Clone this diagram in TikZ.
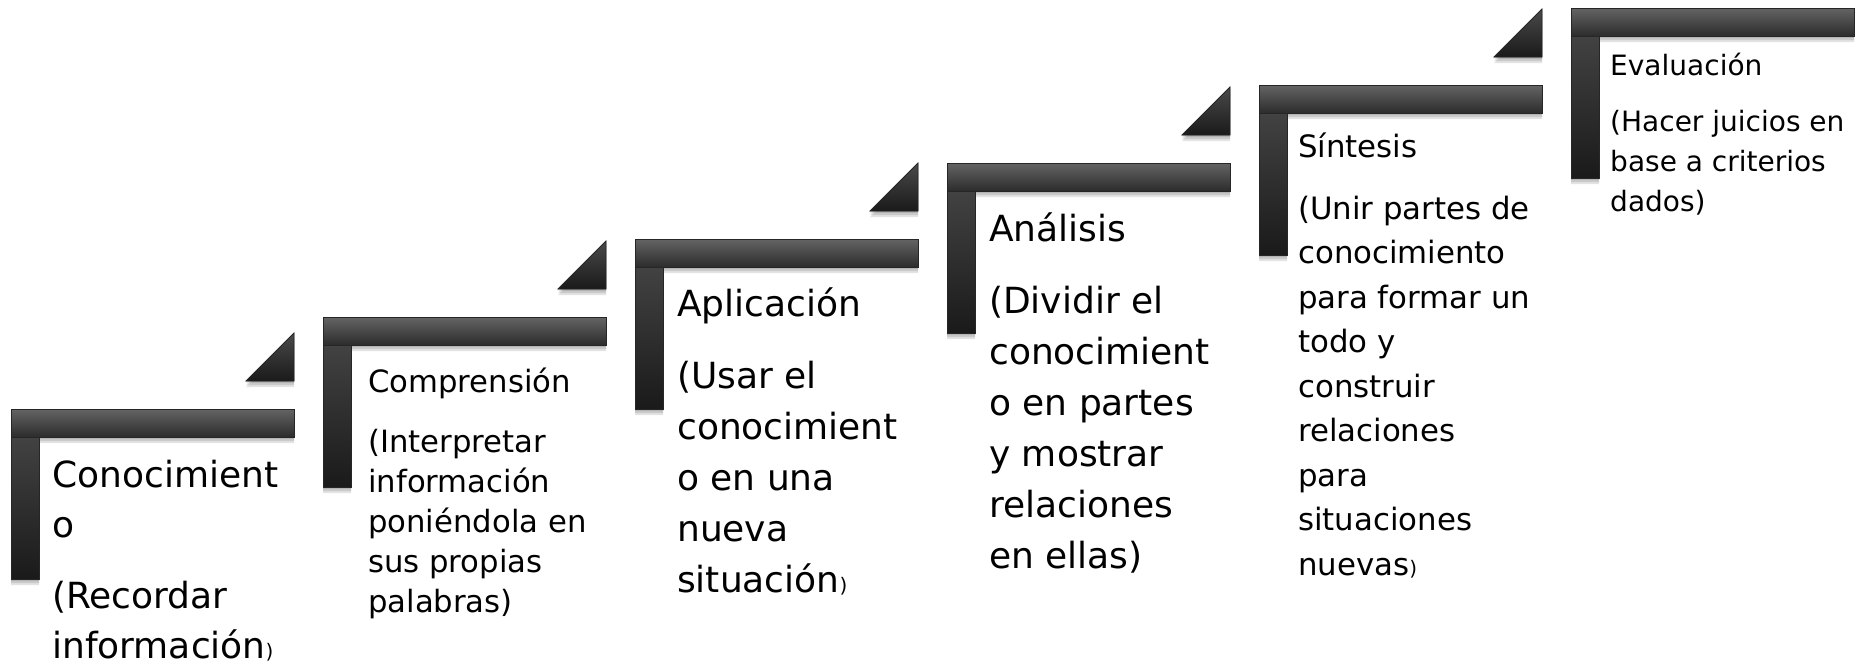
\documentclass[tikz,border=0pt]{standalone}
\usepackage{fontspec}
\setmainfont{DejaVu Sans}
\usepackage{tikz}
\usetikzlibrary{calc}
\definecolor{barlight}{RGB}{100,100,100}
\definecolor{bardark}{RGB}{44,44,44}
\definecolor{postlight}{RGB}{74,74,74}
\definecolor{postdark}{RGB}{26,26,26}
\definecolor{edgegray}{RGB}{38,38,38}
\tikzset{
  bar/.style={draw=edgegray,line width=0.8pt,top color=barlight,bottom color=bardark},
  post/.style={draw=edgegray,line width=0.8pt,top color=postlight,bottom color=postdark},
  wedge/.style={draw=edgegray,line width=0.8pt,top color=postlight,bottom color=postdark},
  shadowfill/.style={fill=black,opacity=0.11},
  steptext/.style={anchor=base west,inner sep=0pt,text=black}
}
\newcommand{\smallparen}{{\fontsize{20}{20}\selectfont)}}
\newcommand{\steplines}[1]{\begin{tabular}[t]{@{}l@{}}#1\end{tabular}}

\begin{document}
\begin{tikzpicture}[x=1pt,y=-1pt]
  \useasboundingbox (0,0) rectangle (1857,665);
  % escalones
  \foreach \sx/\sy [count=\i] in {11/409,323/317,635/239,947/163,1259/85,1571/8}{
    \coordinate (s\i) at (\sx,\sy);
    \foreach \d in {2,4,6}
      \fill[shadowfill] (\sx,\sy+\d) -- (\sx+283,\sy+\d) -- (\sx+283,\sy+28+\d)
        -- (\sx+28,\sy+28+\d) -- (\sx+28,\sy+170+\d) -- (\sx,\sy+170+\d) -- cycle;
    \filldraw[post] (\sx,\sy) rectangle (\sx+28,\sy+170);
    \filldraw[bar] (\sx,\sy) rectangle (\sx+283,\sy+28);
    \ifnum\i<6
      \foreach \d in {2,4,6}
        \fill[shadowfill] (\sx+283,\sy-28+\d) -- (\sx+235,\sy-28+\d) -- (\sx+283,\sy-76+\d) -- cycle;
      \filldraw[wedge] (\sx+283,\sy-28) -- (\sx+235,\sy-28) -- (\sx+283,\sy-76) -- cycle;
    \fi
  }
  % textos
  \node[steptext,font=\fontsize{36}{50}\selectfont] (conocimiento) at ($(s1)+(41,78)$)
    {\steplines{Conocimient\\o\\[21pt](Recordar\\información\smallparen}};
  \node[steptext,font=\fontsize{30.7}{40}\selectfont] (comprension) at ($(s2)+(45,75)$)
    {\steplines{Comprensión\\[20pt](Interpretar\\información\\poniéndola en\\sus propias\\palabras)}};
  \node[steptext,font=\fontsize{36}{51}\selectfont] (aplicacion) at ($(s3)+(42,77)$)
    {\steplines{Aplicación\\[21pt](Usar el\\conocimient\\o en una\\nueva\\situación\smallparen}};
  \node[steptext,font=\fontsize{36}{51}\selectfont] (analisis) at ($(s4)+(42,78)$)
    {\steplines{Análisis\\[21pt](Dividir el\\conocimient\\o en partes\\y mostrar\\relaciones\\en ellas)}};
  \node[steptext,font=\fontsize{30.8}{44.5}\selectfont] (sintesis) at ($(s5)+(39,72)$)
    {\steplines{Síntesis\\[17.5pt](Unir partes de\\conocimiento\\para formar un\\todo y\\construir\\relaciones\\para\\situaciones\\nuevas\smallparen}};
  \node[steptext,font=\fontsize{28}{40}\selectfont] (evaluacion) at ($(s6)+(39,67)$)
    {\steplines{Evaluación\\[16pt](Hacer juicios en\\base a criterios\\dados)}};
\end{tikzpicture}
\end{document}
